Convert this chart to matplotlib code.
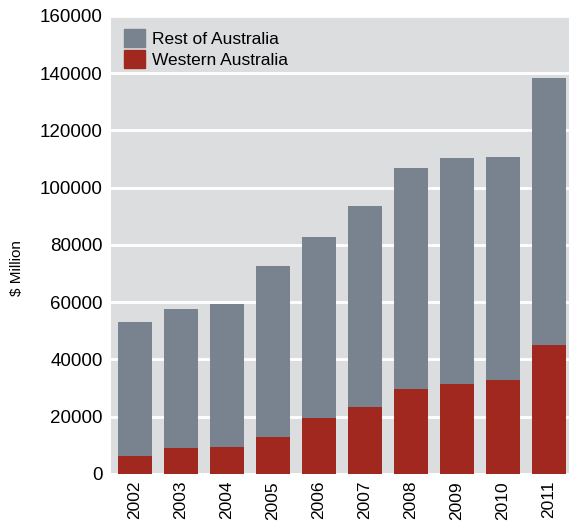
import numpy as np
import matplotlib.pyplot as plt
from matplotlib.patches import Patch

years = ['2002', '2003', '2004', '2005', '2006', '2007', '2008', '2009', '2010', '2011']
western = [6300, 9100, 9400, 12900, 19500, 23400, 29700, 31400, 32800, 45000]
total = [53100, 57600, 59300, 72600, 82700, 93500, 106800, 110300, 110600, 138200]
rest = [t - w for t, w in zip(total, western)]

plt.rcParams['font.family'] = ['Liberation Sans', 'DejaVu Sans']

grey = '#78838f'
red = '#a0281f'

fig = plt.figure(figsize=(5.69, 5.29), dpi=100)
ax = fig.add_axes([0.195, 0.104, 0.805, 0.866])
ax.set_facecolor('#dcdddf')

x = np.arange(len(years))
ax.bar(x, western, width=0.74, color=red, zorder=3)
ax.bar(x, rest, bottom=western, width=0.74, color=grey, zorder=3)

ax.set_ylim(0, 160000)
ax.set_xlim(-0.52, 9.44)
ax.set_yticks(np.arange(0, 160001, 20000))
ax.yaxis.grid(True, color='white', lw=2, zorder=1)
ax.set_xticks(x)
ax.set_xticklabels(years, rotation=90, fontsize=12.5)
ax.tick_params(axis='y', labelsize=13.5, length=0, pad=6)
ax.tick_params(axis='x', length=0, pad=5)
for s in ax.spines.values():
    s.set_visible(False)
ax.set_ylabel('$ Million', fontsize=11)
ax.yaxis.set_label_coords(-0.19, 0.45)

handles = [Patch(color=grey), Patch(color=red)]
ax.legend(handles, ['Rest of Australia', 'Western Australia'], loc='upper left',
          frameon=False, fontsize=12.5, handlelength=1.2, handleheight=1.2,
          handletextpad=0.4, labelspacing=0.2, borderaxespad=0.35)

fig.savefig('out.png', dpi=100)
